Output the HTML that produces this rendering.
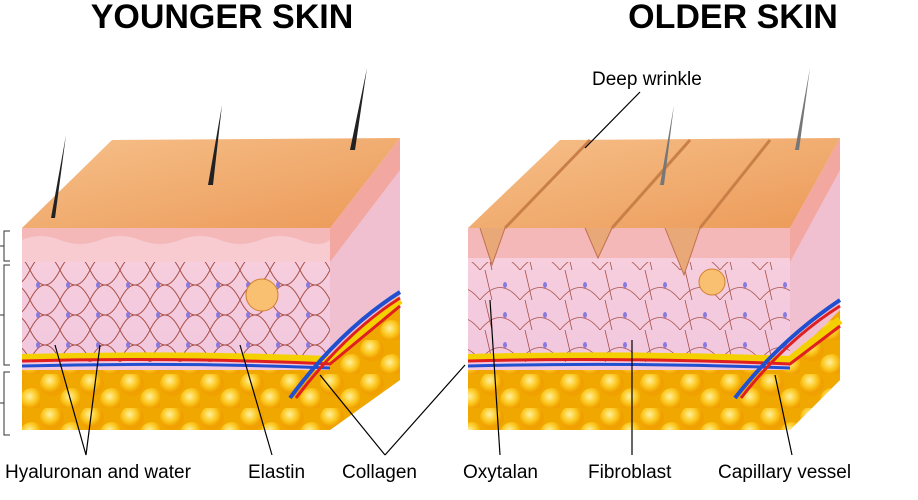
<!DOCTYPE html>
<html><head><meta charset="utf-8"><style>
body{margin:0;background:#fff;}
svg{display:block;font-family:"Liberation Sans",sans-serif;}
</style></head><body>
<svg width="918" height="500" viewBox="0 0 918 500">
<defs>
<linearGradient id="top" x1="0" y1="0" x2="1" y2="1"><stop offset="0" stop-color="#f6c08a"/><stop offset="1" stop-color="#ec9a58"/></linearGradient>
<linearGradient id="derm" x1="0" y1="0" x2="0" y2="1"><stop offset="0" stop-color="#f7d0dc"/><stop offset="1" stop-color="#efc3e0"/></linearGradient>
<radialGradient id="blob" cx="0.4" cy="0.35"><stop offset="0" stop-color="#fff0a0"/><stop offset="0.6" stop-color="#fcc820"/><stop offset="1" stop-color="#f0a000"/></radialGradient>
<pattern id="fib" width="30" height="30" patternUnits="userSpaceOnUse"><path d="M0 30 Q15 0 30 30 M0 0 Q15 30 30 0" fill="none" stroke="#a85048" stroke-width="1"/><ellipse cx="8" cy="15" rx="2" ry="3" fill="#8a7ae0"/></pattern>
<pattern id="fib2" width="40" height="30" patternUnits="userSpaceOnUse"><path d="M0 30 Q20 5 40 30 M5 0 L12 30" fill="none" stroke="#a85048" stroke-width="0.8"/><ellipse cx="25" cy="15" rx="2" ry="3" fill="#8a7ae0"/></pattern>
<pattern id="balls" width="40" height="34" patternUnits="userSpaceOnUse"><rect width="40" height="34" fill="#f0a800"/><circle cx="12" cy="10" r="12" fill="url(#blob)"/><circle cx="32" cy="26" r="12" fill="url(#blob)"/></pattern>
</defs>
<text x="222" y="28" text-anchor="middle" font-size="34" font-weight="bold">YOUNGER SKIN</text>
<text x="733" y="28" text-anchor="middle" font-size="34" font-weight="bold">OLDER SKIN</text>

<!-- LEFT BLOCK -->
<polygon points="330,228 400,138 400,380 330,430" fill="#f0c0d0"/>
<polygon points="330,228 400,138 400,170 330,262" fill="#f2a8a0"/>
<polygon points="330,360 400,300 400,380 330,430" fill="url(#balls)"/>
<rect x="22" y="228" width="308" height="202" fill="url(#derm)"/>
<rect x="22" y="262" width="308" height="100" fill="url(#fib)"/>
<rect x="22" y="228" width="308" height="34" fill="#f4b8b8"/>
<path d="M22 240 Q40 232 60 240 T100 240 T140 240 T180 240 T220 240 T260 240 T300 240 T330 240 L330 262 L22 262Z" fill="#f7cbd0"/>
<rect x="22" y="370" width="308" height="60" fill="url(#balls)"/>
<path d="M22 358 Q180 354 330 360 L400 300" stroke="#f5d000" stroke-width="8" fill="none"/>
<path d="M22 361 Q180 357 330 364 L400 306" stroke="#e02020" stroke-width="3" fill="none"/>
<path d="M22 366 Q180 362 330 368" stroke="#2050d0" stroke-width="3" fill="none"/>
<path d="M290 398 Q340 330 400 292" stroke="#2050d0" stroke-width="4" fill="none"/>
<path d="M296 398 Q346 332 400 298" stroke="#e02020" stroke-width="3" fill="none"/>
<polygon points="22,228 112,140 400,138 330,228" fill="url(#top)"/>
<circle cx="262" cy="295" r="16" fill="#f8c070" stroke="#d08030"/>
<polygon points="66,135 55,218 51,218" fill="#222"/>
<polygon points="222,105 213,185 208,185" fill="#222"/>
<polygon points="367,68 355,150 350,150" fill="#222"/>

<!-- RIGHT BLOCK -->
<polygon points="790,228 840,138 840,380 790,430" fill="#f0c0d0"/>
<polygon points="790,228 840,138 840,170 790,262" fill="#f2a8a0"/>
<polygon points="790,360 840,310 840,380 790,430" fill="url(#balls)"/>
<rect x="468" y="228" width="322" height="202" fill="url(#derm)"/>
<rect x="468" y="262" width="322" height="100" fill="url(#fib2)"/>
<rect x="468" y="228" width="322" height="30" fill="#f4b8b8"/>
<rect x="468" y="370" width="322" height="60" fill="url(#balls)"/>
<path d="M468 358 Q630 354 790 360 L840 320" stroke="#f5d000" stroke-width="8" fill="none"/>
<path d="M468 361 Q630 357 790 364 L840 326" stroke="#e02020" stroke-width="3" fill="none"/>
<path d="M468 366 Q630 362 790 368" stroke="#2050d0" stroke-width="3" fill="none"/>
<path d="M735 398 Q780 340 840 300" stroke="#2050d0" stroke-width="4" fill="none"/>
<path d="M741 398 Q786 340 840 306" stroke="#e02020" stroke-width="3" fill="none"/>
<polygon points="468,228 560,140 840,138 790,228" fill="url(#top)"/>
<path d="M480 228 L492 265 L505 228 M585 228 L598 258 L612 228 M665 228 L684 275 L700 228" fill="#e9a878" stroke="#c07050"/>
<path d="M505 228 L590 140 M612 228 L690 140 M700 228 L770 140" stroke="#c98048" stroke-width="3" fill="none"/>
<circle cx="712" cy="282" r="13" fill="#f8c070" stroke="#d08030"/>
<polygon points="674,105 664,185 660,185" fill="#777"/>
<polygon points="810,68 799,150 795,150" fill="#777"/>

<!-- brackets -->
<g stroke="#333" fill="none">
<path d="M10 231 L4 231 L4 261 L10 261 M4 246 L0 246"/>
<path d="M10 265 L4 265 L4 365 L10 365 M4 315 L0 315"/>
<path d="M10 372 L4 372 L4 435 L10 435 M4 403 L0 403"/>
</g>
<!-- leader lines -->
<g stroke="#000" stroke-width="1.2" fill="none">
<path d="M86 455 L55 345 M86 455 L100 345"/>
<path d="M272 455 L240 345"/>
<path d="M385 455 L320 375 M385 455 L465 365"/>
<path d="M500 455 L490 300"/>
<path d="M632 455 L632 340"/>
<path d="M792 455 L775 375"/>
<path d="M640 92 L585 148"/>
</g>
<g font-size="19">
<text x="5" y="478">Hyaluronan and water</text>
<text x="248" y="478">Elastin</text>
<text x="342" y="478">Collagen</text>
<text x="463" y="478">Oxytalan</text>
<text x="588" y="478">Fibroblast</text>
<text x="718" y="478">Capillary vessel</text>
<text x="592" y="85">Deep wrinkle</text>
</g>
</svg>
</body></html>
